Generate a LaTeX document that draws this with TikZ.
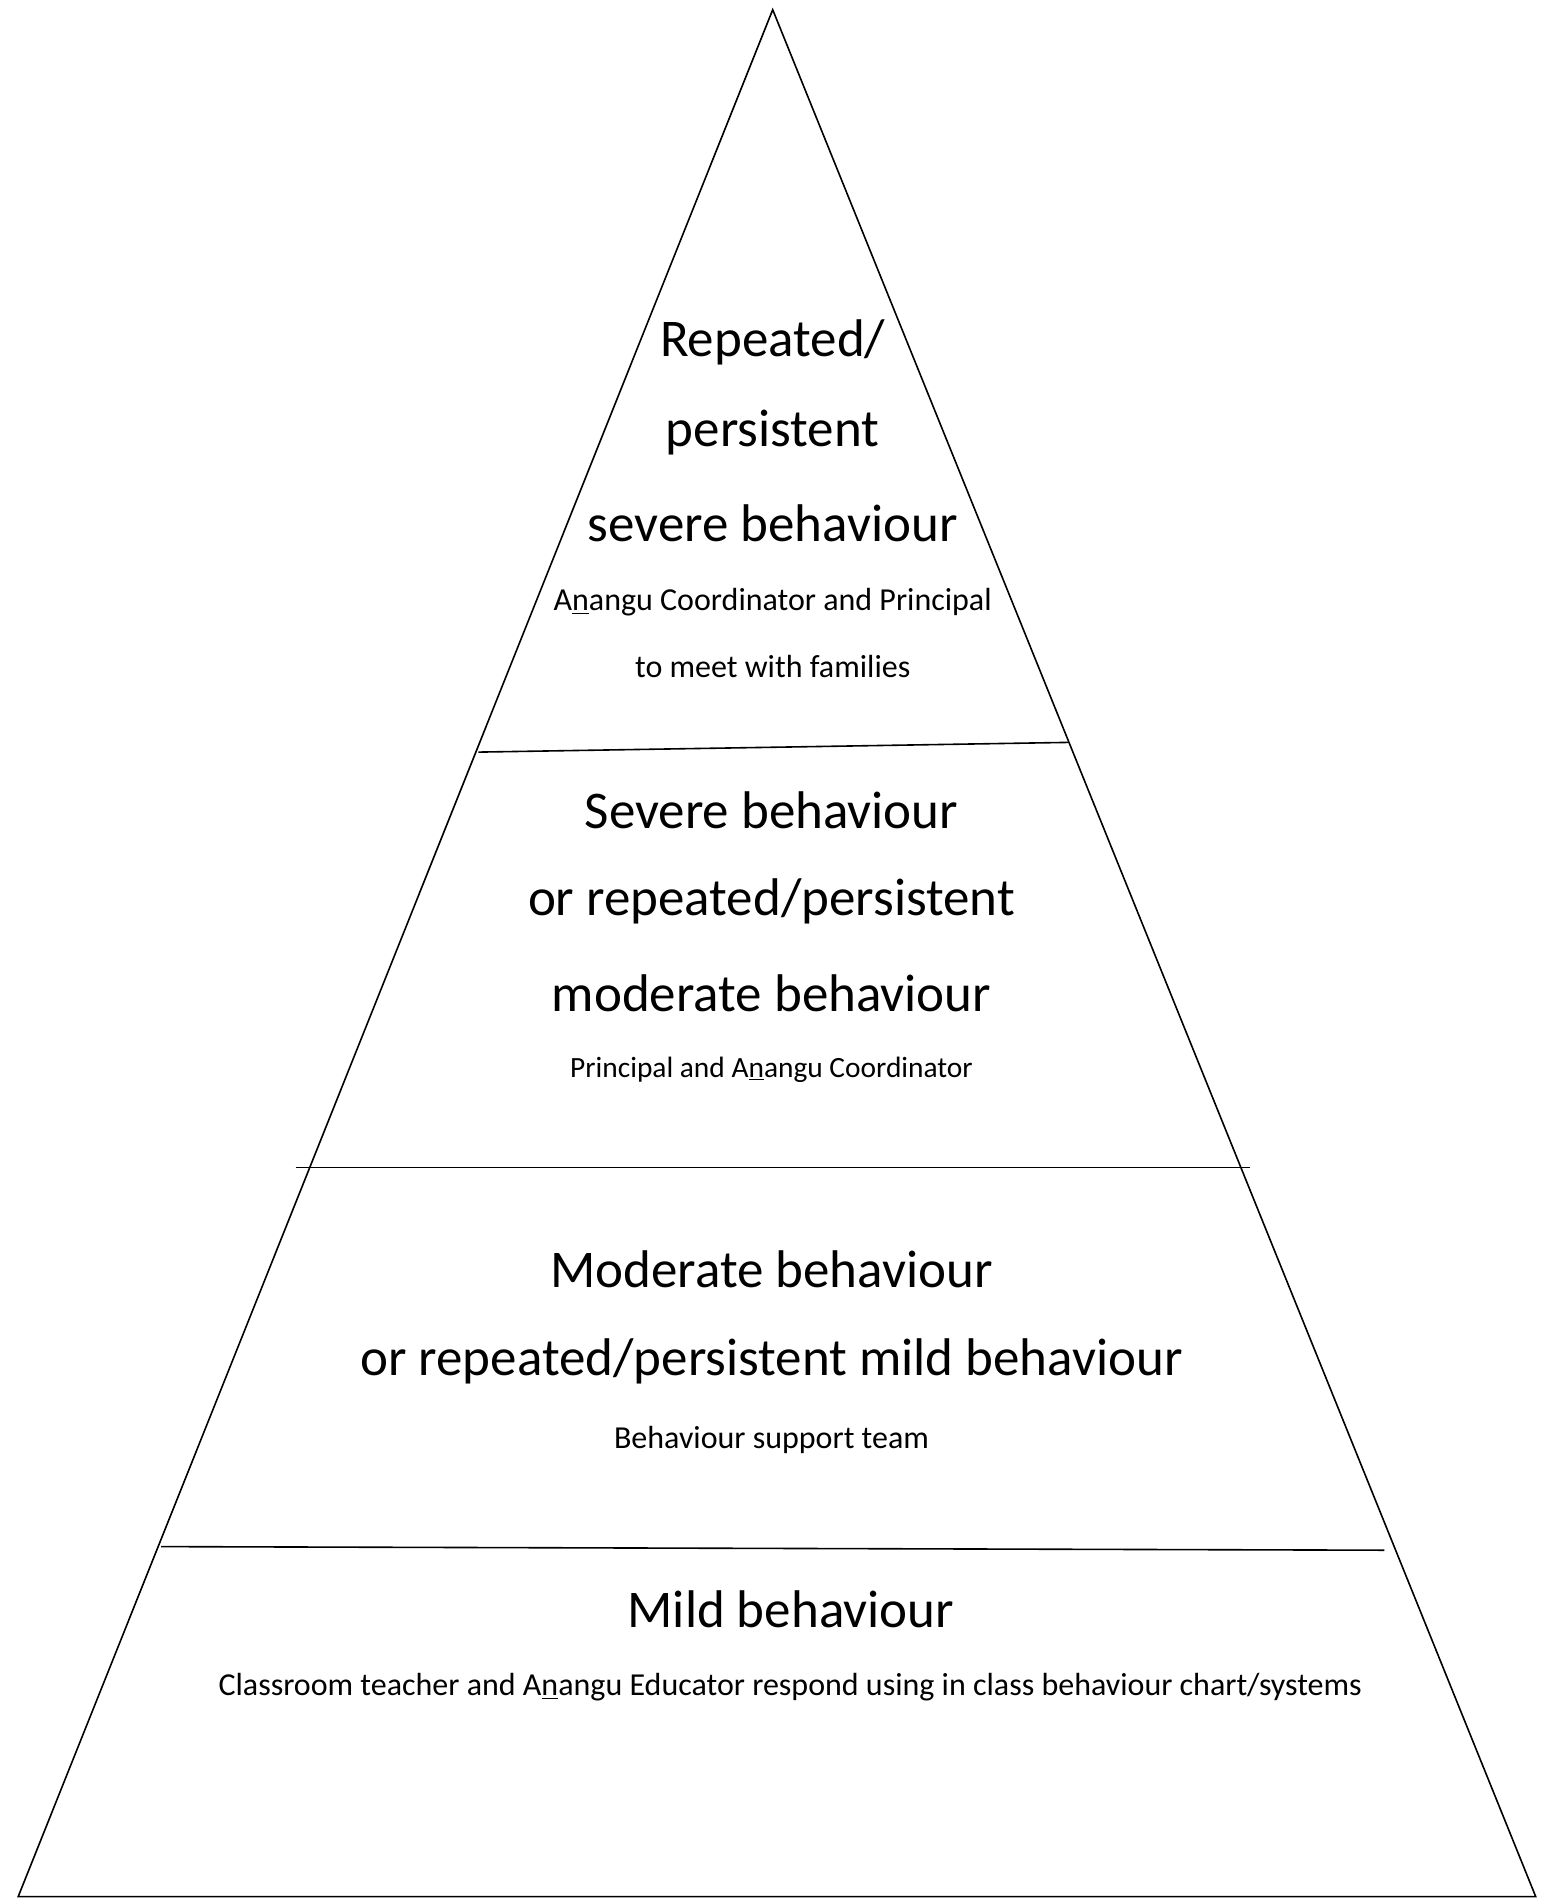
\documentclass[tikz,border=0pt]{standalone}
\usepackage{fontspec}
\setmainfont{Carlito}
\usepackage{tikz}
\newcommand{\Anangu}{A\underline{n}angu}

\begin{document}
\begin{tikzpicture}[x=0.5pt,y=0.5pt]
\tikzstyle{every node}+=[inner sep=0pt]
\tikzstyle{big}=[font=\fontsize{26.5}{32}\selectfont]
\tikzstyle{small}=[font=\fontsize{16}{19}\selectfont]
\tikzstyle{smaller}=[font=\fontsize{14.7}{18}\selectfont]
\useasboundingbox (0,0) rectangle (1543,-1899);
\draw [black, line width=0.8pt] (772.7,-9.7) -- (1535.7,-1896.6) -- (18.2,-1896.6) -- cycle;
\draw [black, line width=0.8pt] (478.4,-752.1) -- (1068.2,-742.4);
\draw [black, line width=0.8pt] (295.5,-1167.5) -- (1249.9,-1167.5);
\draw [black, line width=0.8pt] (161.1,-1546.6) -- (1384.3,-1550.2);
\draw (772.7,-342.7) node [big] (rep1) {Repeated/};
\draw (772.7,-432.4) node [big] (rep2) {persistent};
\draw (772.7,-523.2) node [big] (rep3) {severe behaviour};
\draw (772.7,-601.9) node [small] (rep4) {\Anangu{} Coordinator and Principal};
\draw (772.7,-666.1) node [small] (rep5) {to meet with families};
\draw (771.5,-810.2) node [big] (sev1) {Severe behaviour};
\draw (771.5,-901.1) node [big] (sev2) {or repeated/persistent};
\draw (771.5,-993.1) node [big] (sev3) {moderate behaviour};
\draw (771.5,-1069.4) node [smaller] (sev4) {Principal and \Anangu{} Coordinator};
\draw (771.5,-1269.2) node [big] (mod1) {Moderate behaviour};
\draw (771.5,-1361.3) node [big] (mod2) {or repeated/persistent mild behaviour};
\draw (771.5,-1440.0) node [small] (mod3) {Behaviour support team};
\draw (790.8,-1609.5) node [big] (mild1) {Mild behaviour};
\draw (790.2,-1687.0) node [small] (mild2) {Classroom teacher and \Anangu{} Educator respond using in class behaviour chart/systems};
\end{tikzpicture}
\end{document}
